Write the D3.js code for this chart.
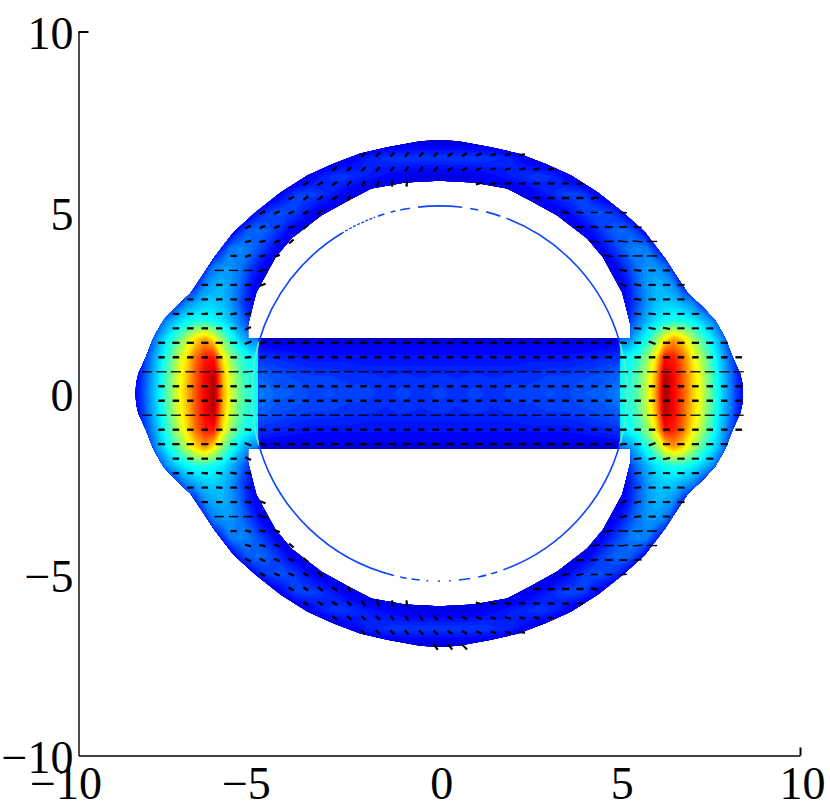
<!DOCTYPE html>
<html>
<head>
<meta charset="utf-8">
<style>
  body { margin: 0; background: #fff; }
</style>
<script src="https://cdn.jsdelivr.net/npm/d3@7"></script>
</head>
<body>
<svg id="chart" width="830" height="803"></svg>
<script>
var tickValues = [-10, -5, 0, 5, 10];
var tickLabels = ["\u221210", "\u22125", "0", "5", "10"];

// heat values (percent of colour range), upper right quadrant, mirrored when drawn
// one row per y, one entry per x = 0, 0.25 ... 8.75
var ringYs = [0, 0.5, 1, 1.5, 2, 2.5, 3, 3.5, 4, 4.5, 5, 5.5, 6, 6.5, 7, 7.5];
var ringXs = [0, 0.25, 0.5, 0.75, 1, 1.25, 1.5, 1.75, 2, 2.25, 2.5, 2.75, 3, 3.25, 3.5, 3.75, 4, 4.25, 4.5, 4.75, 5, 5.25, 5.5, 5.75, 6, 6.25, 6.5, 6.75, 7, 7.25, 7.5, 7.75, 8, 8.25, 8.5, 8.75];
var ringValues = [
  [12,12,12,12,12,12,12,12,12,12,12,12,12,12,12,12,12,12,12,38, 38,41,47,57,72,97,88,80,69,60,48,37,28,18,11,9],
  [12,12,12,12,12,12,12,12,12,12,12,12,12,12,12,12,12,12,12,38, 38,40,46,56,70,95,88,79,68,59,47,36,27,17,10,9],
  [12,12,12,12,12,12,12,12,12,12,12,12,12,12,12,12,12,12,12,36, 36,38,42,51,64,86,85,77,65,55,44,34,24,15,9,8],
  [10,10,10,10,10,10,10,10,10,10,10,10,10,10,10,10,10,10,10,24, 24,26,32,40,50,64,72,66,56,46,38,30,20,12,8,8],
  [8,8,8,8,8,8,8,8,8,8,8,8,8,8,8,8,8,8,8,12, 14,17,24,30,35,38,40,40,37,33,28,20,11,8,8,8],
  [8,8,8,8,8,8,8,8,8,8,8,8,8,8,8,8,8,8,8,8, 10,14,20,27,31,33,32,29,26,18,10,8,8,8,8,8],
  [8,8,8,8,8,8,8,8,8,8,8,8,8,8,8,8,8,8,8,9, 11,15,22,27,30,29,26,16,10,8,8,8,8,8,8,8],
  [8,8,8,8,8,8,8,8,8,8,8,8,8,8,8,8,8,8,8,10, 14,19,24,27,27,24,14,9,8,8,8,8,8,8,8,8],
  [8,8,8,8,8,8,8,8,8,8,8,8,8,8,8,8,8,10,12,16, 20,24,26,25,17,9,8,8,8,8,8,8,8,8,8,8],
  [8,8,8,8,8,8,8,8,8,8,8,8,8,8,8,9,11,14,18,21, 23,22,17,9,7,7,7,7,7,7,7,7,7,7,7,7],
  [8,8,8,8,8,8,8,8,8,8,8,8,9,10,12,15,18,20,20,18, 15,9,7,7,7,7,7,7,7,7,7,7,7,7,7,7],
  [8,8,8,8,8,8,8,8,8,10,11,13,15,17,19,19,18,14,10,7, 7,7,7,7,7,7,7,7,7,7,7,7,7,7,7,7],
  [10,10,10,10,11,12,13,14,15,16,17,18,17,15,12,9,7,7,7,7, 7,7,7,7,7,7,7,7,7,7,7,7,7,7,7,7],
  [18,18,18,18,18,18,17,16,15,13,11,8,7,7,7,7,7,7,7,7, 7,7,7,7,7,7,7,7,7,7,7,7,7,7,7,7],
  [8,8,8,8,8,7,7,7,7,7,7,7,7,7,7,7,7,7,7,7, 7,7,7,7,7,7,7,7,7,7,7,7,7,7,7,7],
  [6,6,6,6,6,6,6,6,6,6,6,6,6,6,6,6,6,6,6,6, 6,6,6,6,6,6,6,6,6,6,6,6,6,6,6,6]
];

// the horizontal bar between the lobes
var barYs = [0, 0.25, 0.5, 0.75, 1, 1.25, 1.5];
var barXs = [0, 0.5, 1, 1.5, 2, 2.5, 3, 3.5, 4, 4.5, 5];
var barValues = [
  [19,17,19,17,19,18,20,19,21,22,25],
  [18,17,18,17,18,18,19,19,20,21,24],
  [17,16,17,16,17,17,18,18,19,20,22],
  [15,15,15,15,15,16,16,16,17,18,20],
  [14,14,14,14,14,14,14,14,15,16,17],
  [12,12,12,12,12,12,12,12,12,13,14],
  [8,8,8,8,8,8,8,8,8,8,8]
];

// outlines of the coloured area, one quadrant
var outerX = [8.42, 8.4, 8.34, 8.14, 7.92, 7.65, 7.31, 6.9, 6.62, 6.26, 5.71, 5.1, 4.4, 3.66, 2.94, 2.19, 1.44, 0.53, 0];
var outerY = [0, 0.3, 0.55, 0.99, 1.55, 2.02, 2.38, 2.76, 3.18, 3.73, 4.45, 5, 5.55, 6.02, 6.35, 6.63, 6.8, 6.97, 7];
var holeX = [5, 5, 5.3, 5.3, 5.07, 4.54, 4.1, 3.27, 2.52, 1.88, 0.94, 0];
var holeY = [0, 1.52, 1.52, 1.9, 2.79, 3.76, 4.28, 4.92, 5.33, 5.66, 5.83, 5.88];
var barHalfWidth = 5;
var barHalfHeight = 1.52;

// thin circle, arcs in degrees clockwise from the top
var circleRadius = 5.2;
var circleArcs = [[-6.5,7],[9.5,12],[14.5,19],[21,74],[106,160],[162,164],[165.5,168],[170.5,174],[176.5,177],[179.8,180.3],[183.4,183.9],[186,188.5],[190,192],[194,254],[286,329],[341,343],[345,346.5],[348,351]];
var circleDotted = [[329,340]];
var circleSides = [[74,106],[254,286]];

// quiver rows of the upper half, the lower half is the mirror image
var quiverY = [6.6, 6.2, 5.8, 5.8, 5.4, 5.4, 5, 5, 4.6, 4.6, 4.2, 4.2, 3.8, 3.8, 3.4, 3.4, 3, 3, 2.6, 2.6, 2.2, 2.2, 1.8, 1.8, 1.4, 1, 0.6, 0.2];
var quiverStart = [-2.1, -2.9, -3.7, 1.1, -4.1, 2.7, -4.9, 3.5, -5.3, 3.9, -5.3, 4.3, -5.7, 4.7, -6.1, 5.1, -6.5, 5.1, -6.9, 5.5, -7.3, 5.5, -7.3, 5.5, -7.7, -7.7, -8.1, -7.7];
var quiverLength = [0.16, 0.16, 0.17, 0.18, 0.17, 0.2, 0.17, 0.2, 0.17, 0.22, 0.17, 0.28, 0.17, 0.28, 0.26, 0.2, 0.18, 0.2, 0.18, 0.2, 0.18, 0.2, 0.18, 0.2, 0.2, 0.18, 0.28, 0.18];
var quiverWeight = [2.2, 2.2, 2.2, 2.2, 2.2, 2.4, 2.2, 1.6, 2.2, 1.8, 2.2, 1.4, 2.2, 1.4, 1.4, 2, 2.2, 2, 2.2, 2, 2.2, 2, 2.2, 2, 2.2, 2.4, 1.3, 2.4];
var quiverAngle = [
  [40,45,45,50,45,45,30,30,20,15,10,5],
  [40,45,45,50,55,55,55,50,30,30,20,15,15,15,10,5],
  [30,30,35,50,60,70,85,85],
  [15,10,5,0,0,0,0,5],
  [30,35,35,35,70],
  [0,0,0,0,10],
  [30,25,25,30,40],
  [-10,-10,0,0,-5],
  [25,25,25,20,40],
  [0,-5,0,0,-5],
  [15,10,25,40],
  [-10,0,-5,-5,0],
  [0,15,10,20],
  [-10,0,0,0],
  [0,0,0,15],
  [-10,-5,0,0],
  [0,0,0,5,20],
  [-25,-10,0,0,0],
  [0,0,5,0,5],
  [-5,0,0,0],
  [0,0,5,5,10,10],
  [-5,-5,0,0,0],
  [0,0,0,0,0,25],
  [-5,-10,-10,0,0,0],
  [0,0,0,0,0,0,20,15,5,0,0,0,0,0,0,0,0,0,0,0,0,0,0,0,0,0,0,0,0,0,0,5,-5,0,-20,0,0,0,0,0],
  [0,0,0,0,0,0,5,5,0,0,0,0,0,0,0,0,0,0,0,0,0,0,0,0,0,0,0,0,0,0,0,0,0,0,0,0,0,0,0,0,0],
  [0,0,0,0,0,0,0,5,5,0,0,0,0,0,0,0,0,0,0,0,0,0,0,0,0,0,0,0,0,0,0,0,0,0,0,0,0,0,0,0,0,0],
  [0,0,0,0,0,0,5,0,0,0,0,0,0,0,0,0,0,0,0,0,0,0,0,0,0,0,0,0,0,0,0,0,0,0,0,0,0,0,0,0,0]
];
var quiverSpacing = 0.4;
var quiverBottomX = [-0.1, 0.3, 0.7];
var quiverBottomAngle = [-55, -50, -45];
var quiverBottomY = -7;

var svg = d3.select("#chart");
var x = d3.scaleLinear().domain([-10, 10]).range([78.5, 800]);
var y = d3.scaleLinear().domain([-10, 10]).range([755.5, 31.5]);

// jet
var color = d3.scaleLinear()
  .domain([0, 12.5, 37.5, 62.5, 87.5, 100])
  .range(["#000080", "#0000ff", "#00ffff", "#ffff00", "#ff0000", "#800000"]);

// quadrant table to full grid, top row first
function mirrorGrid(values){
  var rows = values.length, cols = values[0].length, out = [];
  for(var j = -(rows-1); j <= rows-1; j++){
    for(var i = -(cols-1); i <= cols-1; i++){
      out.push(values[Math.abs(j)][Math.abs(i)]);
    }
  }
  return out;
}

function drawField(g, xs, ys, values, step){
  var n = xs.length, m = ys.length;
  var stepX = xs[1]-xs[0], stepY = ys[1]-ys[0];
  var maxX = xs[n-1], maxY = ys[m-1];
  var contours = d3.contours()
    .size([2*n-1, 2*m-1])
    .thresholds(d3.range(0, 100, step))
    .smooth(true);
  var path = d3.geoPath(d3.geoTransform({
    point: function(px, py){
      this.stream.point(x((px-0.5)*stepX - maxX), y(maxY - (py-0.5)*stepY));
    }
  }));
  g.selectAll("path")
    .data(contours(mirrorGrid(values)))
    .enter().append("path")
    .attr("d", path)
    .attr("fill", function(d){ return color(d.value + step/2); });
}

// outline made of the four mirrored quadrants
function outline(xs, ys){
  var pts = [], i;
  for(i = 0; i < xs.length; i++) pts.push([xs[i], ys[i]]);
  for(i = xs.length-1; i >= 0; i--) pts.push([-xs[i], ys[i]]);
  for(i = 0; i < xs.length; i++) pts.push([-xs[i], -ys[i]]);
  for(i = xs.length-1; i >= 0; i--) pts.push([xs[i], -ys[i]]);
  return d3.line().x(function(d){ return x(d[0]); }).y(function(d){ return y(d[1]); })(pts) + "Z";
}

var defs = svg.append("defs");
defs.append("clipPath").attr("id", "ringClip")
  .append("path")
  .attr("clip-rule", "evenodd")
  .attr("d", outline(outerX, outerY) + outline(holeX, holeY));
defs.append("clipPath").attr("id", "barClip")
  .append("rect")
  .attr("x", x(-barHalfWidth))
  .attr("y", y(barHalfHeight))
  .attr("width", x(barHalfWidth) - x(-barHalfWidth))
  .attr("height", y(-barHalfHeight) - y(barHalfHeight));

drawField(svg.append("g").attr("clip-path", "url(#ringClip)"), ringXs, ringYs, ringValues, 1.5);
drawField(svg.append("g").attr("clip-path", "url(#barClip)"), barXs, barYs, barValues, 1.5);

// thin circle
var arc = d3.arc()
  .innerRadius(x(circleRadius) - x(0))
  .outerRadius(x(circleRadius) - x(0))
  .startAngle(function(d){ return d[0]*Math.PI/180; })
  .endAngle(function(d){ return d[1]*Math.PI/180; });
var circleG = svg.append("g")
  .attr("transform", "translate(" + x(0) + "," + y(0) + ")")
  .attr("fill", "none");
circleG.selectAll(".arc").data(circleArcs).enter().append("path")
  .attr("class", "arc").attr("d", arc)
  .attr("stroke", "#0a46ff").attr("stroke-width", 1.6);
circleG.selectAll(".dots").data(circleDotted).enter().append("path")
  .attr("class", "dots").attr("d", arc)
  .attr("stroke", "#0a46ff").attr("stroke-width", 1.3).attr("stroke-dasharray", "1.5,3");
circleG.selectAll(".side").data(circleSides).enter().append("path")
  .attr("class", "side").attr("d", arc)
  .attr("stroke", "#5ff0c0").attr("stroke-width", 1.6);

// quiver segments
var segments = [];
quiverY.forEach(function(yy, r){
  quiverAngle[r].forEach(function(a, k){
    var xx = quiverStart[r] + k*quiverSpacing;
    segments.push({x: xx, y: yy, a: a, len: quiverLength[r], w: quiverWeight[r]});
    segments.push({x: xx, y: -yy, a: -a, len: quiverLength[r], w: quiverWeight[r]});
  });
});
quiverBottomX.forEach(function(xx, k){
  segments.push({x: xx, y: quiverBottomY, a: quiverBottomAngle[k], len: 0.2, w: 2});
});

svg.append("g").selectAll("line").data(segments).enter().append("line")
  .attr("x1", function(d){ return x(d.x - d.len/2*Math.cos(d.a*Math.PI/180)); })
  .attr("x2", function(d){ return x(d.x + d.len/2*Math.cos(d.a*Math.PI/180)); })
  .attr("y1", function(d){ return y(d.y - d.len/2*Math.sin(d.a*Math.PI/180)); })
  .attr("y2", function(d){ return y(d.y + d.len/2*Math.sin(d.a*Math.PI/180)); })
  .attr("stroke", "#000")
  .attr("stroke-width", function(d){ return d.w; });

// axes
var xAxis = d3.axisBottom(x).tickValues(tickValues).tickSize(0).tickPadding(11)
  .tickFormat(function(d, i){ return tickLabels[i]; });
var yAxis = d3.axisLeft(y).tickValues(tickValues).tickSize(0).tickPadding(5)
  .tickFormat(function(d, i){ return tickLabels[i]; });

var gx = svg.append("g").attr("transform", "translate(0," + y(-10) + ")").call(xAxis);
var gy = svg.append("g").attr("transform", "translate(" + x(-10) + ",0)").call(yAxis);

[gx, gy].forEach(function(g){
  g.attr("font-family", "'Liberation Serif', serif").attr("font-size", 46);
  g.select(".domain").attr("stroke", "#000").attr("stroke-width", 1.4);
  g.selectAll("text").attr("fill", "#000");
});

// digits sit on the tick, the minus hangs to the left
gx.selectAll(".tick text").attr("dx", function(d){ return d < 0 ? -13 : 2; });
gy.selectAll(".tick text").attr("dy", "0.36em");

gx.selectAll(".tick").filter(function(d){ return d === 10; }).select("line")
  .attr("y2", -8).attr("stroke", "#000").attr("stroke-width", 2);
gy.selectAll(".tick").filter(function(d){ return d === 10; }).select("line")
  .attr("x2", 10).attr("stroke", "#000").attr("stroke-width", 2);
</script>
</body>
</html>
